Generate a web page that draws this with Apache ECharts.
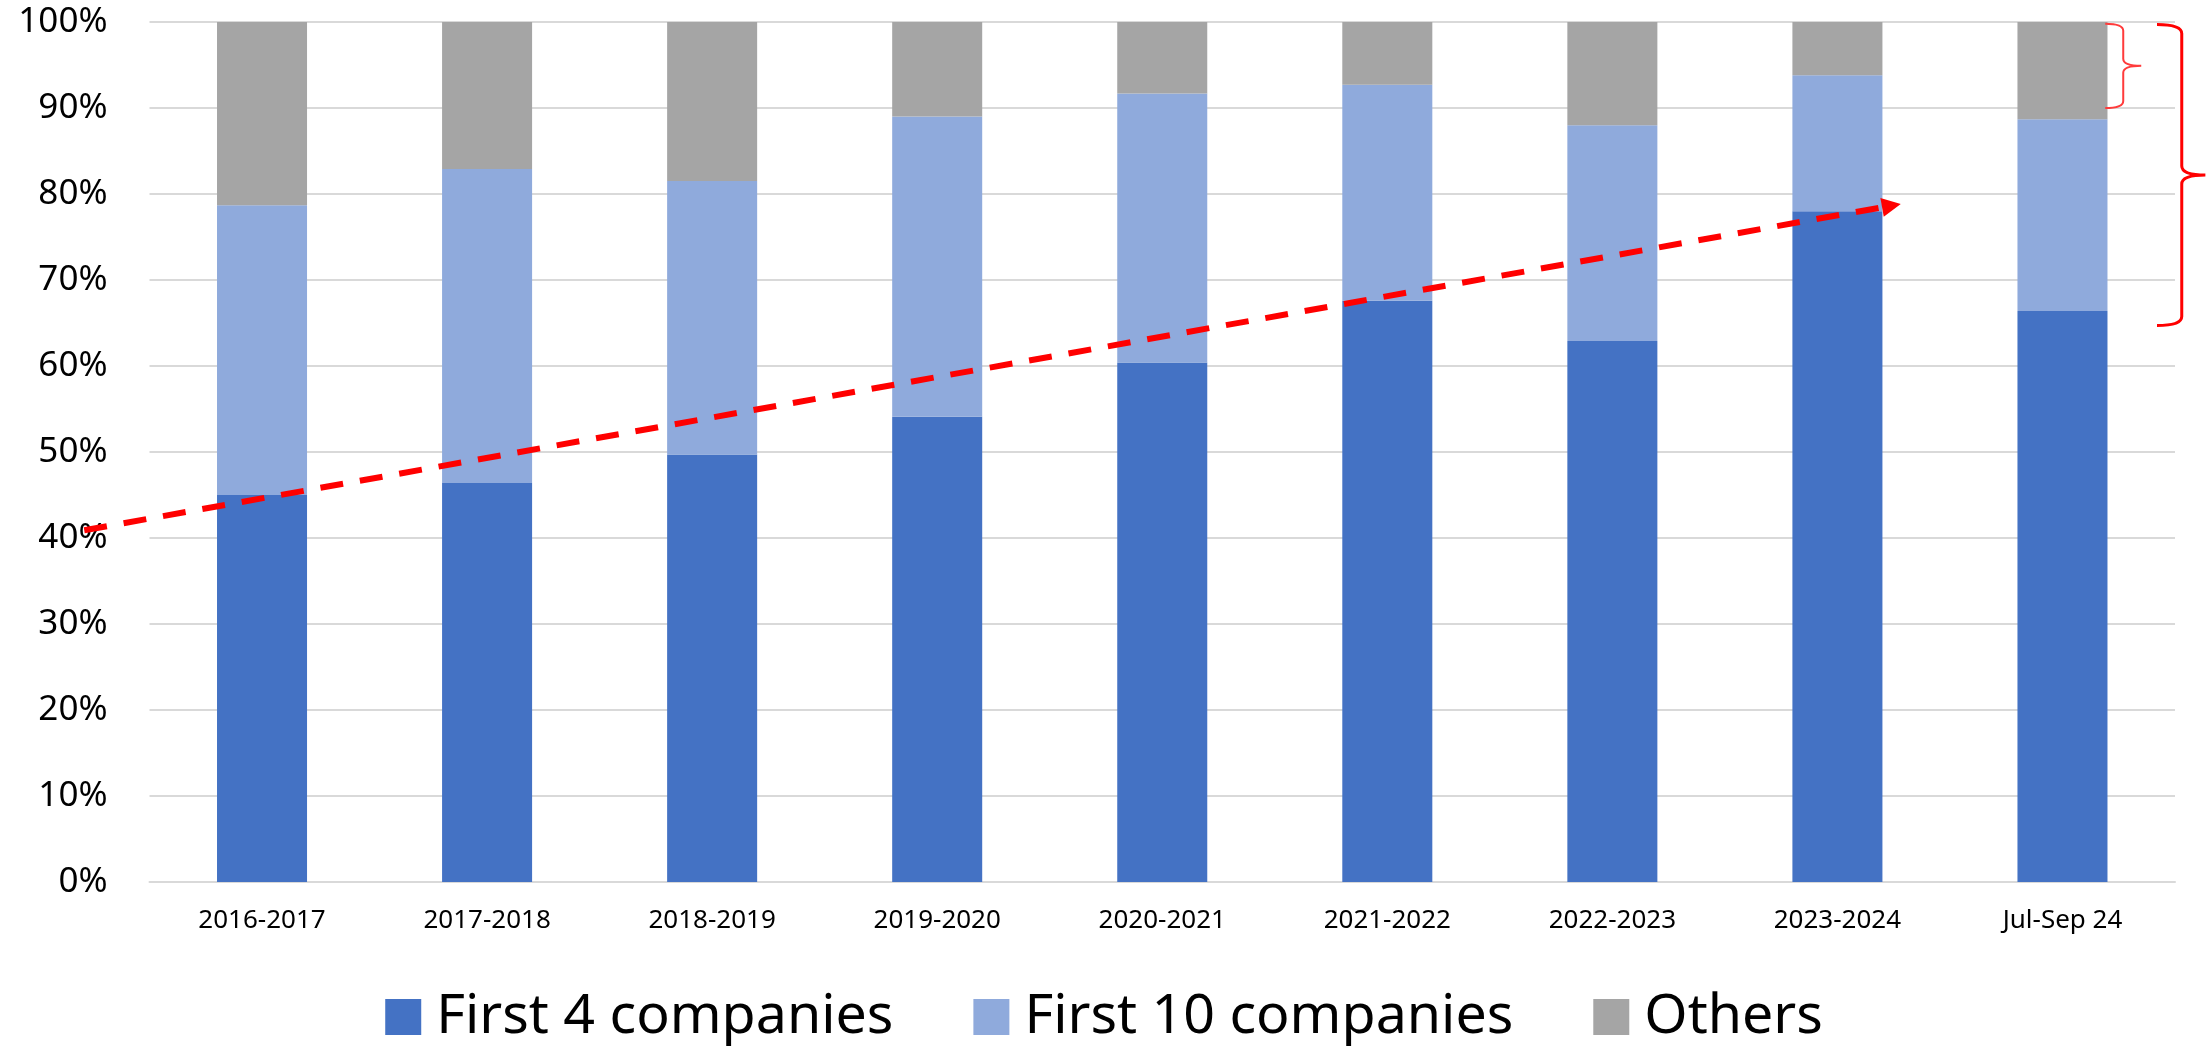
<!DOCTYPE html>
<html>
<head>
<meta charset="utf-8">
<title>Market share of leading companies</title>
<script src="https://cdn.jsdelivr.net/npm/echarts@6/dist/echarts.min.js"></script>
<style>
  html, body { margin: 0; padding: 0; background: #ffffff; }
  #chart { width: 2208px; height: 1046px; }
</style>
</head>
<body>
<div id="chart"></div>
<script>
// Periods on the x axis
const periods = ['2016-2017', '2017-2018', '2018-2019', '2019-2020', '2020-2021',
                 '2021-2022', '2022-2023', '2023-2024', 'Jul-Sep 24'];

// Stacked shares (%) per period: first 4 companies, the rest of the first 10, all others
const first4Share  = [45.0, 46.4, 49.7, 54.1, 60.4, 67.6, 62.9, 78.0, 66.4];
const first10Share = [33.7, 36.5, 31.8, 34.9, 31.3, 25.1, 25.1, 15.8, 22.3];
const othersShare  = [21.3, 17.1, 18.5, 11.0,  8.3,  7.3, 12.0,  6.2, 11.3];

const seriesNames = ['First 4 companies', 'First 10 companies', 'Others'];

// Percentage ticks on the y axis
const yTicks = { min: 0, max: 100, step: 10 };

// Trend arrow, in (period index, %) units: start point and arrow-head point
const trendArrow = [[-0.79, 40.9], [7.24, 78.65]];

// Braces at the right edge: [end x, spine x, tip x, top %, bottom %, tip %]
const braceOthers = [8.19, 8.27, 8.35, 99.8, 90.0, 94.9];
const braceTop10  = [8.42, 8.53, 8.635, 99.7, 64.7, 82.2];

const FONT = '"Noto Sans", "Liberation Sans", sans-serif';
const COLORS = ['#4472C4', '#8FAADC', '#A5A5A5'];

function braceItem(params, api) {
  const xe = api.value(0), xv = api.value(1), xt = api.value(2);
  const yt = api.value(3), yb = api.value(4), ym = api.value(5);
  const pTop = api.coord([xe, yt]);
  const pBot = api.coord([xe, yb]);
  const pTip = api.coord([xt, ym]);
  const sx = api.coord([xv, ym])[0];
  const ex = pTop[0];
  const r = params.dataIndex === 0 ? 7 : 9;
  const d = [
    'M', ex, pTop[1],
    'Q', sx, pTop[1], sx, pTop[1] + r,
    'L', sx, pTip[1] - r,
    'Q', sx, pTip[1], pTip[0], pTip[1],
    'Q', sx, pTip[1], sx, pTip[1] + r,
    'L', sx, pBot[1] - r,
    'Q', sx, pBot[1], ex, pBot[1]
  ].join(' ');
  return {
    type: 'path',
    shape: { pathData: d },
    style: {
      fill: 'none',
      stroke: params.dataIndex === 0 ? '#FF3B3B' : '#FF0000',
      lineWidth: params.dataIndex === 0 ? 2 : 3
    }
  };
}

const chart = echarts.init(document.getElementById('chart'), null, { renderer: 'canvas' });

chart.setOption({
  animation: false,
  backgroundColor: '#ffffff',
  textStyle: { fontFamily: FONT },
  grid: { left: 149.5, right: 33, top: 22, bottom: 164, containLabel: false },
  legend: {
    data: seriesNames,
    top: 989,
    left: 'center',
    icon: 'rect',
    itemWidth: 36,
    itemHeight: 36,
    itemGap: 80,
    padding: 0,
    selectedMode: false,
    textStyle: { fontFamily: FONT, fontSize: 55.5, color: '#000000', padding: [0, 0, 0, 10] }
  },
  xAxis: [
    {
      type: 'category',
      data: periods,
      axisTick: { show: false },
      axisLine: { show: true, lineStyle: { color: '#D9D9D9', width: 2 } },
      axisLabel: { fontFamily: FONT, fontSize: 26, color: '#000000', margin: 26 }
    },
    {
      // value axis aligned with the category slots, used for annotations
      type: 'value',
      min: -0.5,
      max: 8.5,
      show: false
    }
  ],
  yAxis: {
    type: 'value',
    min: yTicks.min,
    max: yTicks.max,
    interval: yTicks.step,
    axisLine: { show: false },
    axisTick: { show: false },
    splitLine: { lineStyle: { color: '#D9D9D9', width: 2 } },
    axisLabel: {
      fontFamily: FONT, fontSize: 35, color: '#000000', margin: 42,
      formatter: '{value}%'
    }
  },
  series: [
    {
      name: seriesNames[0], type: 'bar', stack: 'share', barWidth: '40%',
      itemStyle: { color: COLORS[0] }, data: first4Share
    },
    {
      name: seriesNames[1], type: 'bar', stack: 'share', barWidth: '40%',
      itemStyle: { color: COLORS[1] }, data: first10Share
    },
    {
      name: seriesNames[2], type: 'bar', stack: 'share', barWidth: '40%',
      itemStyle: { color: COLORS[2] }, data: othersShare
    },
    {
      name: 'trend',
      type: 'lines',
      coordinateSystem: 'cartesian2d',
      xAxisIndex: 1,
      yAxisIndex: 0,
      clip: false,
      silent: true,
      z: 5,
      symbol: ['none', 'triangle'],
      symbolSize: [19, 19],
      lineStyle: { color: '#FF0000', width: 6, type: [23, 17], opacity: 1, curveness: 0 },
      data: [{ coords: trendArrow }]
    },
    {
      name: 'braces',
      type: 'custom',
      xAxisIndex: 1,
      yAxisIndex: 0,
      silent: true,
      clip: false,
      z: 5,
      renderItem: braceItem,
      data: [braceOthers, braceTop10]
    }
  ]
});
</script>
</body>
</html>
